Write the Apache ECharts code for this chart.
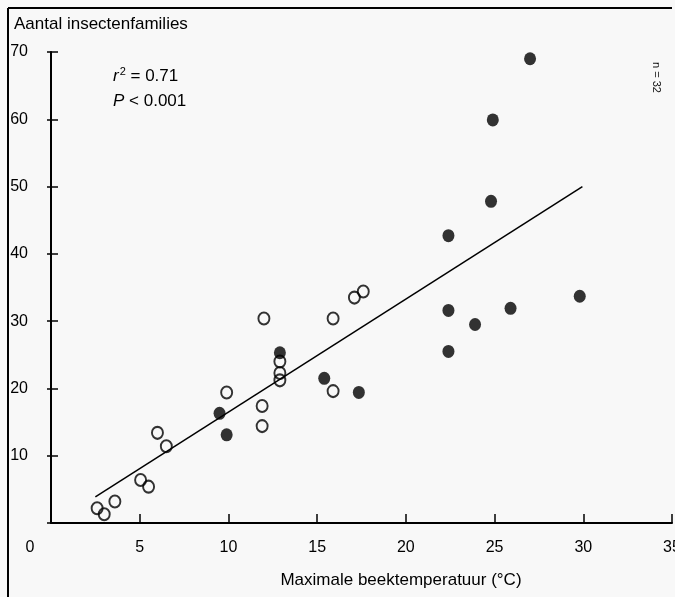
<!DOCTYPE html>
<html>
<head>
<meta charset="utf-8">
<script src="https://cdn.jsdelivr.net/npm/echarts@6/dist/echarts.min.js"></script>
<style>
html,body{margin:0;padding:0;background:#f8f8f8;}
#c{width:675px;height:597px;}
</style>
</head>
<body>
<div id="c"></div>
<script>
// Open circles
const openX = [2.6, 3.0, 3.6, 5.05, 5.5, 6.0, 6.5, 9.9, 11.9, 11.9, 12.0, 12.9, 12.9, 12.9, 15.9, 15.9, 17.1, 17.6];
const openY = [2.2, 1.3, 3.2, 6.4, 5.4, 13.4, 11.4, 19.4, 17.4, 14.4, 30.4, 24.0, 22.3, 21.2, 30.4, 19.6, 33.5, 34.4];
// Filled circles
const filledX = [9.5, 9.9, 12.9, 15.4, 17.35, 22.4, 22.4, 22.4, 23.9, 24.8, 24.9, 25.9, 27.0, 29.8];
const filledY = [16.3, 13.1, 25.3, 21.5, 19.4, 42.7, 31.6, 25.5, 29.5, 47.8, 59.9, 31.9, 69.0, 33.7];
// Regression line end points
const fitX = [2.5, 29.95];
const fitY = [3.9, 50.0];

const yTitle = 'Aantal insectenfamilies';
const xTitle = 'Maximale beektemperatuur (°C)';

const pair = (xs, ys) => xs.map((x, i) => [x, ys[i]]);
const FONT = '"Liberation Sans", Arial, sans-serif';

const chart = echarts.init(document.getElementById('c'), null, {renderer: 'canvas'});
chart.setOption({
  backgroundColor: '#f8f8f8',
  animation: false,
  grid: {left: 51, right: 3, top: 52, bottom: 74, containLabel: false, outerBoundsMode: 'none'},
  xAxis: {
    type: 'value', min: 0, max: 35, interval: 5,
    axisLine: {show: true, onZero: false, lineStyle: {color: '#000', width: 2}},
    axisTick: {show: true, inside: true, length: 9, lineStyle: {color: '#000', width: 1.5}},
    axisLabel: {color: '#000', fontSize: 16, fontFamily: FONT, margin: 17, hideOverlap: false,
      formatter: v => v === 0 ? '' : String(v)},
    splitLine: {show: false}
  },
  yAxis: [{
    type: 'value', min: 0, max: 70, interval: 10,
    axisLine: {show: true, onZero: false, lineStyle: {color: '#000', width: 2}},
    axisTick: {show: true, inside: true, length: 7, lineStyle: {color: '#000', width: 1.5}},
    axisLabel: {color: '#000', fontSize: 16, fontFamily: FONT, margin: 23,
      formatter: v => v === 0 ? '' : String(v)},
    splitLine: {show: false}
  }, {
    type: 'value', min: 0, max: 70, interval: 10, position: 'left',
    axisLine: {show: false},
    axisTick: {show: true, inside: false, length: 4, lineStyle: {color: '#000', width: 1.5}},
    axisLabel: {show: false},
    splitLine: {show: false}
  }],
  series: [{
    type: 'line', data: pair(fitX, fitY), showSymbol: false, z: 1,
    lineStyle: {color: '#000', width: 1.5}
  }, {
    type: 'scatter', data: pair(openX, openY), symbol: 'circle', symbolSize: [11, 12], z: 3,
    itemStyle: {color: 'rgba(0,0,0,0)', borderColor: '#000', borderWidth: 2}
  }, {
    type: 'scatter', data: pair(filledX, filledY), symbol: 'circle', symbolSize: [12, 13], z: 4,
    itemStyle: {color: '#000', borderColor: '#000', borderWidth: 0}
  }],
  graphic: [
    {type: 'line', shape: {x1: 8, y1: 8, x2: 672, y2: 8}, style: {stroke: '#000', lineWidth: 2}},
    {type: 'line', shape: {x1: 8, y1: 8, x2: 8, y2: 597}, style: {stroke: '#000', lineWidth: 2}},
    {type: 'text', left: 14, top: 16, style: {text: yTitle, fontSize: 17, fontFamily: FONT, fill: '#000'}},
    {type: 'text', x: 30, y: 548, style: {text: '0', fontSize: 16, fontFamily: FONT, fill: '#000', align: 'center', verticalAlign: 'middle'}},
    {type: 'text', x: 401, y: 580, style: {text: xTitle, fontSize: 17, fontFamily: FONT, fill: '#000', align: 'center', verticalAlign: 'middle'}},
    {type: 'text', x: 113, y: 76, style: {
      text: '{i|r}{s|2} = 0.71', fontSize: 17, fontFamily: FONT, fill: '#000', verticalAlign: 'middle',
      rich: {i: {fontStyle: 'italic', fontSize: 17, fontFamily: FONT, fill: '#000'},
             s: {fontSize: 11, fontFamily: FONT, fill: '#000', verticalAlign: 'top', padding: [0, 0, 8, 1]}}
    }},
    {type: 'text', x: 113, y: 101, style: {
      text: '{i|P} < 0.001', fontSize: 17, fontFamily: FONT, fill: '#000', verticalAlign: 'middle',
      rich: {i: {fontStyle: 'italic', fontSize: 17, fontFamily: FONT, fill: '#000'}}
    }},
    {type: 'text', x: 662, y: 62, rotation: -Math.PI / 2, style: {text: 'n = 32', fontSize: 11, fontFamily: FONT, fill: '#111'}}
  ]
});
</script>
</body>
</html>
